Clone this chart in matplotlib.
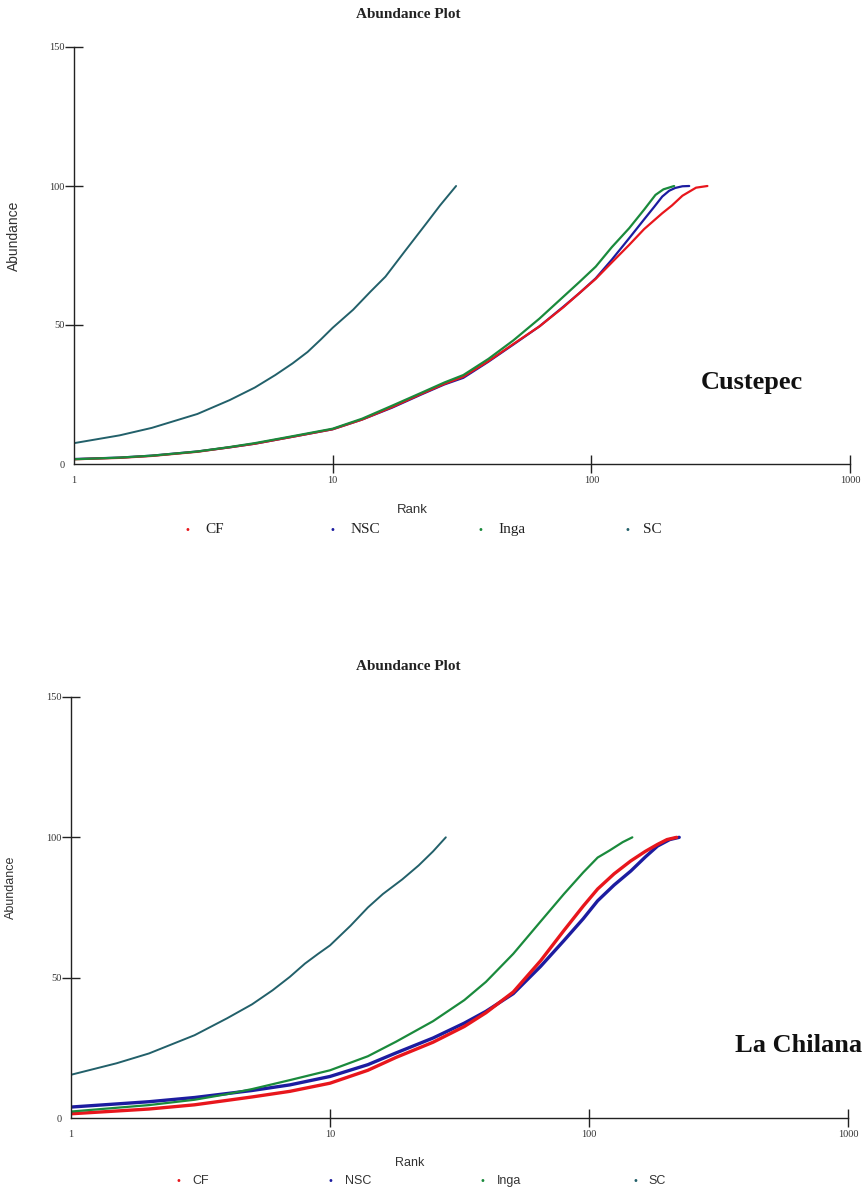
import matplotlib.pyplot as plt
from matplotlib.ticker import FixedLocator, FixedFormatter, NullLocator

W, H = 863, 1193

# Custepec: cumulative abundance vs. rank
cus_cf_rank = [1, 1.5, 2, 3, 4, 5, 7, 10, 13, 17, 22, 27, 32, 40, 50, 63, 78, 90,
               104, 120, 140, 160, 188, 205, 225, 254, 281]
cus_cf_val = [1.7, 2.2, 2.9, 4.4, 6.0, 7.3, 9.8, 12.5, 16.0, 20.5, 25.2, 28.8, 31.4,
              37.0, 43.2, 49.5, 56.4, 61.5, 66.6, 72.5, 78.8, 84.5, 90.2, 93.0,
              96.5, 99.4, 100]
cus_nsc_rank = [1, 1.5, 2, 3, 4, 5, 7, 10, 13, 17, 22, 27, 32, 40, 50, 63, 78, 90,
                104, 120, 140, 160, 175, 188, 200, 211, 225, 239]
cus_nsc_val = [1.8, 2.3, 3.0, 4.5, 6.0, 7.3, 9.8, 12.5, 16.0, 20.3, 25.0, 28.6, 31.0,
               36.8, 43.0, 49.5, 56.6, 61.5, 66.8, 73.5, 81.2, 88.0, 92.5, 96.2,
               98.3, 99.3, 99.9, 100]
cus_inga_rank = [1, 1.5, 2, 3, 4, 5, 7, 10, 13, 17, 22, 27, 32, 40, 50, 63, 78, 90,
                 104, 120, 140, 160, 177, 190, 209]
cus_inga_val = [1.7, 2.3, 3.0, 4.5, 6.1, 7.5, 10.0, 12.7, 16.3, 21.0, 25.6, 29.3, 32.0,
                37.8, 44.5, 52.3, 60.2, 65.5, 71.0, 78.0, 84.8, 91.5, 96.8, 98.8, 100]
cus_sc_rank = [1, 1.5, 2, 3, 4, 5, 6, 7, 8, 9, 10, 12, 14, 16, 19, 23, 26, 30]
cus_sc_val = [7.5, 10.3, 13.0, 18.0, 23.0, 27.5, 32.0, 36.2, 40.3, 44.8, 49.0, 55.5,
              62.0, 67.4, 76.5, 86.5, 93.0, 100]

# La Chilana
chi_cf_rank = [1, 2, 3, 5, 7, 10, 14, 18, 25, 33, 40, 51, 65, 80, 95, 108, 125, 145,
               165, 184, 200, 218]
chi_cf_val = [1.5, 3.2, 4.7, 7.5, 9.5, 12.4, 17.0, 21.6, 27.0, 32.6, 37.5, 44.9, 56.0,
              66.8, 75.5, 81.6, 87.0, 91.6, 95.0, 97.5, 99.2, 100]
chi_nsc_rank = [1, 2, 3, 5, 7, 10, 14, 18, 25, 33, 40, 51, 65, 80, 95, 108, 125, 145,
                165, 184, 205, 223]
chi_nsc_val = [3.9, 5.8, 7.3, 9.8, 11.8, 14.8, 19.0, 23.2, 28.5, 33.8, 38.0, 44.3, 54.0,
               63.2, 71.0, 77.4, 83.0, 88.0, 93.0, 96.9, 99.2, 100]
chi_inga_rank = [1, 2, 3, 4, 5, 7, 10, 14, 18, 25, 33, 40, 51, 65, 80, 95, 108, 120,
                 135, 147]
chi_inga_val = [2.3, 4.6, 6.5, 8.5, 10.3, 13.5, 17.0, 22.0, 27.2, 34.5, 42.0, 48.5,
                58.5, 70.0, 79.8, 87.5, 92.8, 95.3, 98.3, 100]
chi_sc_rank = [1, 1.5, 2, 3, 4, 5, 6, 7, 8, 9, 10, 12, 14, 16, 19, 22, 25, 28]
chi_sc_val = [15.4, 19.5, 23.0, 29.5, 35.5, 40.5, 45.5, 50.3, 55.0, 58.5, 61.5, 68.5,
              75.0, 79.8, 85.0, 90.0, 95.0, 100]

groups = ['CF', 'NSC', 'Inga', 'SC']
colors = {'CF': '#e8161c', 'NSC': '#1c1ca0', 'Inga': '#1a8a3c', 'SC': '#22606a'}

x_ticks = [1, 10, 100, 1000]
x_labels = ['1', '10', '100', '1000']
y_ticks = [0, 50, 100, 150]
y_labels = ['0', '50', '100', '150']

SERIF = 'Liberation Serif'
SANS = 'Liberation Sans'


def fx(x):
    return x / W


def fy(y):
    return 1 - y / H


def panel(box, series, widths):
    left, top, right, bottom = box
    ax = fig.add_axes([fx(left), fy(bottom), fx(right) - fx(left), fy(top) - fy(bottom)])
    for name in ['NSC', 'CF', 'Inga', 'SC']:
        r, v = series[name]
        ax.plot(r, v, color=colors[name], lw=widths[name],
                solid_capstyle='round', solid_joinstyle='round')

    ax.set_xscale('log')
    ax.set_xlim(1, 1000)
    ax.set_ylim(0, 150)
    ax.xaxis.set_major_locator(FixedLocator(x_ticks))
    ax.xaxis.set_major_formatter(FixedFormatter(x_labels))
    ax.xaxis.set_minor_locator(NullLocator())
    ax.yaxis.set_major_locator(FixedLocator(y_ticks))
    ax.yaxis.set_major_formatter(FixedFormatter(y_labels))

    for side in ['top', 'right']:
        ax.spines[side].set_visible(False)
    for side in ['left', 'bottom']:
        ax.spines[side].set_linewidth(1.0)
        ax.spines[side].set_color('#222222')

    ax.tick_params(axis='both', direction='inout', length=13, width=1.0,
                   color='#222222', labelsize=7.5, labelcolor='#333333')
    ax.tick_params(axis='x', pad=2)
    ax.tick_params(axis='y', pad=0)
    for lab in ax.get_xticklabels() + ax.get_yticklabels():
        lab.set_family(SERIF)
    # no tick marks in the corner
    ax.xaxis.get_major_ticks()[0].tick1line.set_visible(False)
    ax.yaxis.get_major_ticks()[0].tick1line.set_visible(False)
    ax.patch.set_alpha(0)
    return ax


fig = plt.figure(figsize=(W / 100, H / 100), dpi=100)

# --- Custepec ---
panel((74, 47, 850, 464),
      {'CF': (cus_cf_rank, cus_cf_val), 'NSC': (cus_nsc_rank, cus_nsc_val),
       'Inga': (cus_inga_rank, cus_inga_val), 'SC': (cus_sc_rank, cus_sc_val)},
      {'CF': 1.6, 'NSC': 1.6, 'Inga': 1.6, 'SC': 1.4})

fig.text(fx(408), fy(14), 'Abundance Plot', family=SERIF, weight='bold',
         size=11, ha='center', va='center', color='#222222')
fig.text(fx(14), fy(236), 'Abundance', family=SANS, size=10, rotation=90,
         ha='center', va='center', color='#333333')
fig.text(fx(412), fy(510), 'Rank', family=SANS, size=9.5,
         ha='center', va='center', color='#333333')
fig.text(fx(752), fy(383), 'Custepec', family=SERIF, weight='bold',
         size=19, ha='center', va='center', color='#111111')

for name, dot_x, txt_x in zip(groups, [187, 332, 480, 627], [205, 351, 498, 643]):
    fig.text(fx(dot_x), fy(530), '•', size=7, color=colors[name], ha='center', va='center')
    fig.text(fx(txt_x), fy(530), name, family=SERIF, size=11, ha='left',
             va='center', color='#222222')

# --- La Chilana ---
panel((71, 697, 848, 1118),
      {'CF': (chi_cf_rank, chi_cf_val), 'NSC': (chi_nsc_rank, chi_nsc_val),
       'Inga': (chi_inga_rank, chi_inga_val), 'SC': (chi_sc_rank, chi_sc_val)},
      {'CF': 2.4, 'NSC': 2.4, 'Inga': 1.6, 'SC': 1.4})

fig.text(fx(408), fy(666), 'Abundance Plot', family=SERIF, weight='bold',
         size=11, ha='center', va='center', color='#222222')
fig.text(fx(11), fy(887), 'Abundance', family=SANS, size=9, rotation=90,
         ha='center', va='center', color='#333333')
fig.text(fx(410), fy(1163), 'Rank', family=SANS, size=9,
         ha='center', va='center', color='#333333')
fig.text(fx(735), fy(1046), 'La Chilana', family=SERIF, weight='bold',
         size=19, ha='left', va='center', color='#111111')

for name, dot_x, txt_x in zip(groups, [178, 330, 482, 635], [192, 345, 497, 648]):
    fig.text(fx(dot_x), fy(1181), '•', size=7, color=colors[name], ha='center', va='center')
    fig.text(fx(txt_x), fy(1181), name, family=SANS, size=9, ha='left',
             va='center', color='#333333')

fig.savefig('out.png', dpi=100, facecolor='white')
